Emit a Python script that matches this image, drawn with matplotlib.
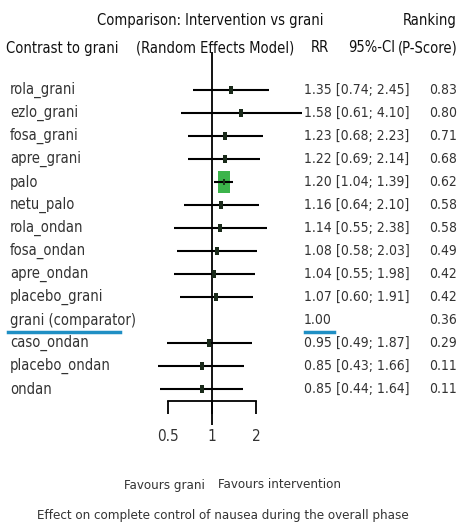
import numpy as np
import matplotlib
matplotlib.use("Agg")
import matplotlib.pyplot as plt
from matplotlib.transforms import blended_transform_factory

labels = ["rola_grani", "ezlo_grani", "fosa_grani", "apre_grani", "palo",
          "netu_palo", "rola_ondan", "fosa_ondan", "apre_ondan",
          "placebo_grani", "grani (comparator)", "caso_ondan",
          "placebo_ondan", "ondan"]
rr = [1.35, 1.58, 1.23, 1.22, 1.20, 1.16, 1.14, 1.08, 1.04, 1.07, 1.00,
      0.95, 0.85, 0.85]
ci_lo = [0.74, 0.61, 0.68, 0.69, 1.04, 0.64, 0.55, 0.58, 0.55, 0.60, np.nan,
         0.49, 0.43, 0.44]
ci_hi = [2.45, 4.10, 2.23, 2.14, 1.39, 2.10, 2.38, 2.03, 1.98, 1.91, np.nan,
         1.87, 1.66, 1.64]
pscore = [0.83, 0.80, 0.71, 0.68, 0.62, 0.58, 0.58, 0.49, 0.42, 0.42, 0.36,
          0.29, 0.11, 0.11]
big_row = "palo"
comparator = "grani (comparator)"
ticks = [0.5, 1, 2]

# no Arial Narrow here, the condensed DejaVu is the closest thing
plt.rcParams['font.family'] = ['DejaVu Sans']
plt.rcParams['font.stretch'] = 'condensed'
TXT = '#333333'
FS = 10.5

W, H = 461, 528
fig = plt.figure(figsize=(W / 100, H / 100), dpi=100)

# forest panel: 1 sits at x=212 px, 44 px per doubling, rows 23 px apart from y=90
px_left, px_right = 150, 310
px_top, px_bot = 40, 450
x0, ppd = 212, 44
y0, dy = 90, 23
ax = fig.add_axes([px_left / W, 1 - px_bot / H, (px_right - px_left) / W,
                   (px_bot - px_top) / H])
ax.set_xscale('log')
ax.set_xlim(2 ** ((px_left - x0) / ppd), 2 ** ((px_right - x0) / ppd))
ax.set_ylim((px_bot - y0) / dy, (px_top - y0) / dy)
for s in ['top', 'right', 'left']:
    ax.spines[s].set_visible(False)
ax.patch.set_visible(False)
ax.set_yticks([])

# reference line at 1
ax.plot([1, 1], [(52 - y0) / dy, (425 - y0) / dy], color='black', lw=1.3,
        solid_capstyle='butt', clip_on=False)

# bracket-style x axis
ax.spines['bottom'].set_position(('data', (401 - y0) / dy))
ax.spines['bottom'].set_bounds(ticks[0], ticks[-1])
ax.spines['bottom'].set_linewidth(1.3)
ax.set_xticks(ticks)
ax.set_xticklabels([f"{t:g}" for t in ticks])
ax.minorticks_off()
ax.tick_params(axis='x', direction='out', length=9, width=1.3, pad=11,
               labelsize=FS + 0.5, labelcolor=TXT)

tall = [(-0.43, -1), (0.43, -1), (0.43, 1), (-0.43, 1)]
for i, lab in enumerate(labels):
    if np.isnan(ci_lo[i]):
        continue
    ax.plot([ci_lo[i], ci_hi[i]], [i, i], color='black', lw=1.5,
            solid_capstyle='butt', zorder=3, clip_on=False)
    if lab == big_row:
        ax.scatter([rr[i]], [i], s=250, color='#3cb44b',
                   marker=[(-0.59, -1), (0.59, -1), (0.59, 1), (-0.59, 1)],
                   linewidths=0, zorder=2)
        ax.scatter([rr[i]], [i], s=25, color='#1a3a1a', marker=tall,
                   linewidths=0, zorder=4)
    else:
        ax.scatter([rr[i]], [i], s=30, color='#1a2a1a', marker=tall,
                   linewidths=0, zorder=4)

# text columns
tr = blended_transform_factory(fig.transFigure, ax.transData)
for i, lab in enumerate(labels):
    ax.text(10 / W, i, lab, transform=tr, ha='left', va='center',
            fontsize=FS, color=TXT)
    if np.isnan(ci_lo[i]):
        est = f"{rr[i]:.2f}"
    else:
        est = f"{rr[i]:.2f} [{ci_lo[i]:.2f}; {ci_hi[i]:.2f}]"
    ax.text(304 / W, i, est, transform=tr, ha='left', va='center',
            fontsize=10, color=TXT)
    ax.text(457 / W, i, f"{pscore[i]:.2f}", transform=tr, ha='right',
            va='center', fontsize=10, color=TXT)
    if lab == comparator:
        yl = i + 12 / dy
        ax.plot([8 / W, 120 / W], [yl, yl], transform=tr, color='#1f8fc4',
                lw=2.5, clip_on=False)
        ax.plot([305 / W, 334 / W], [yl, yl], transform=tr, color='#1f8fc4',
                lw=2.5, clip_on=False)

# headers
hd = dict(fontsize=10.5, color='#111111', fontweight='medium', va='center')
fig.text(210 / W, 1 - 21 / H, "Comparison: Intervention vs grani", ha='center', **hd)
fig.text(457 / W, 1 - 21 / H, "Ranking", ha='right', **hd)
fig.text(6 / W, 1 - 48 / H, "Contrast to grani", ha='left', **hd)
fig.text(215 / W, 1 - 48 / H, "(Random Effects Model)", ha='center', **hd)
fig.text(320 / W, 1 - 48 / H, "RR", ha='center', **hd)
fig.text(395 / W, 1 - 48 / H, "95%-CI", ha='right', **hd)
fig.text(458 / W, 1 - 48 / H, "(P-Score)", ha='right', **hd)

# footer
fig.text(205 / W, 1 - 485 / H, "Favours grani", ha='right', va='center',
         fontsize=9.5, color=TXT)
fig.text(218 / W, 1 - 485 / H, "Favours intervention", ha='left', va='center',
         fontsize=9.5, color=TXT)
fig.text(223 / W, 1 - 516 / H,
         "Effect on complete control of nausea during the overall phase",
         ha='center', va='center', fontsize=9.5, color=TXT)

fig.savefig("out.png", dpi=100, facecolor='white')
